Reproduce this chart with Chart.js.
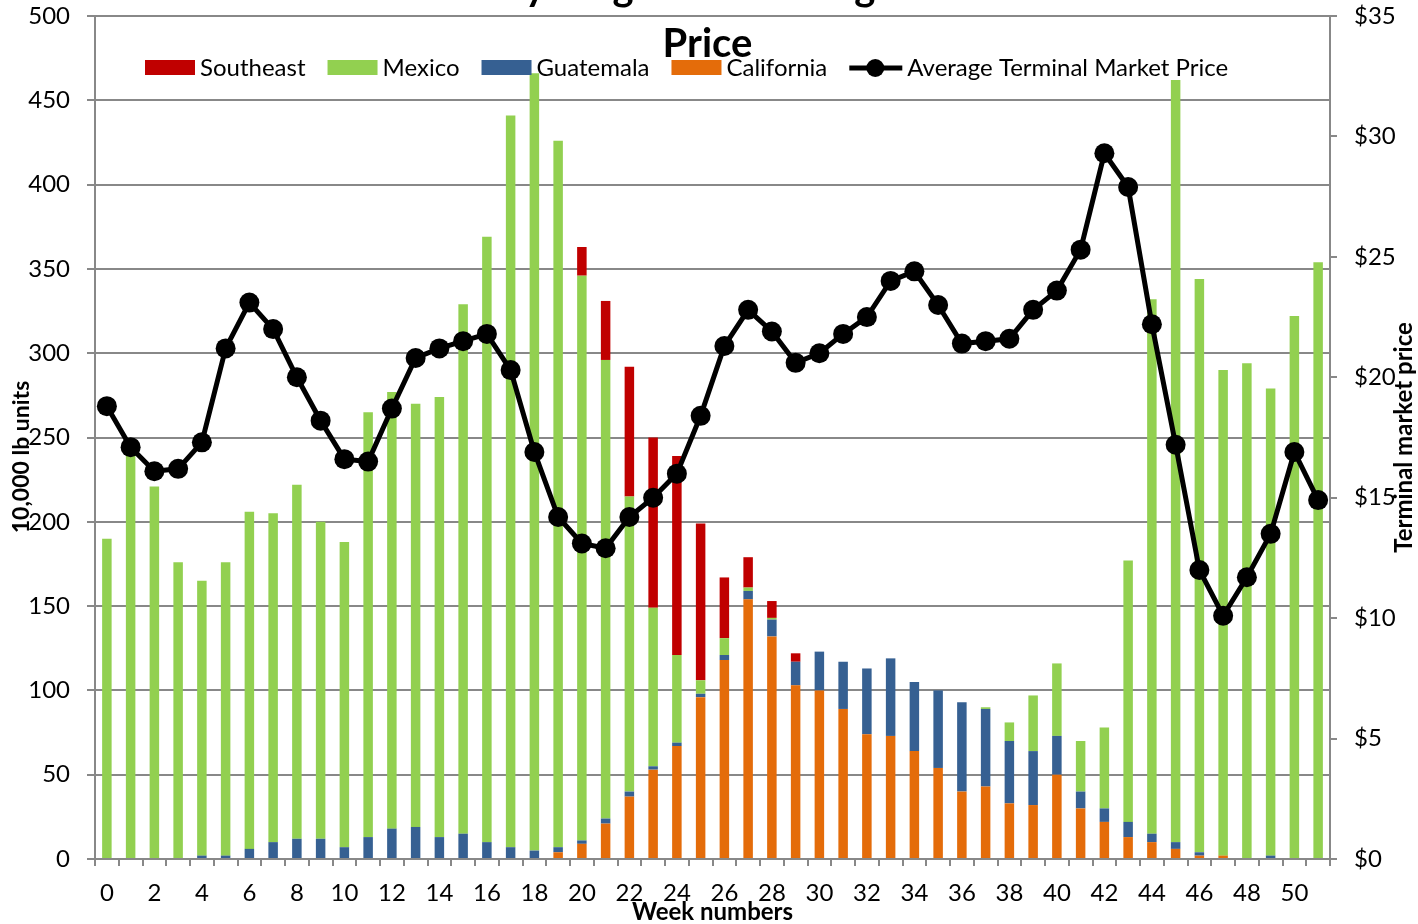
<!DOCTYPE html>
<html lang="en">
<head>
<meta charset="UTF-8">
<title>Weekly Origin and Average Terminal Market Price</title>
<script src="https://cdn.jsdelivr.net/npm/chart.js@4.4.0/dist/chart.umd.min.js"></script>
<style>
    body { margin: 0; background: #fff; }
    #wrap { width: 1418px; height: 924px; }
</style>
</head>
<body>
<div id="wrap"><canvas id="originChart" width="1418" height="924"></canvas></div>
<script>
// week numbers along the x axis
var weeks = [0, 1, 2, 3, 4, 5, 6, 7, 8, 9, 10, 11, 12, 13, 14, 15, 16, 17, 18, 19, 20, 21, 22, 23, 24, 25,
             26, 27, 28, 29, 30, 31, 32, 33, 34, 35, 36, 37, 38, 39, 40, 41, 42, 43, 44, 45, 46, 47, 48, 49, 50, 51];

// shipments, 10,000 lb units (stacked bottom to top)
var california = [0, 0, 0, 0, 0, 0, 0, 0, 0, 0, 0, 0, 0, 0, 0, 0, 0, 0, 0, 4, 9, 21, 37, 53, 67, 96,
                  118, 154, 132, 103, 100, 89, 74, 73, 64, 54, 40, 43, 33, 32, 50, 30, 22, 13, 10, 6, 2, 2, 0, 0, 0, 0];
var guatemala = [0, 0, 0, 0, 2, 2, 6, 10, 12, 12, 7, 13, 18, 19, 13, 15, 10, 7, 5, 3, 2, 3, 3, 2, 2, 2,
                 3, 5, 10, 14, 23, 28, 39, 46, 41, 46, 53, 46, 37, 32, 23, 10, 8, 9, 5, 4, 2, 0, 0, 2, 0, 0];
var mexico = [190, 243, 221, 176, 163, 174, 200, 195, 210, 188, 181, 252, 259, 251, 261, 314, 359, 434, 461, 419, 335, 272, 175, 94, 52, 8,
              10, 2, 1, 0, 0, 0, 0, 0, 0, 0, 0, 1, 11, 33, 43, 30, 48, 155, 317, 452, 340, 288, 294, 277, 322, 354];
var southeast = [0, 0, 0, 0, 0, 0, 0, 0, 0, 0, 0, 0, 0, 0, 0, 0, 0, 0, 0, 0, 17, 35, 77, 101, 118, 93,
                 36, 18, 10, 5, 0, 0, 0, 0, 0, 0, 0, 0, 0, 0, 0, 0, 0, 0, 0, 0, 0, 0, 0, 0, 0, 0];

// average terminal market price, $
var price = [18.8, 17.1, 16.1, 16.2, 17.3, 21.2, 23.1, 22.0, 20.0, 18.2, 16.6, 16.5, 18.7, 20.8, 21.2, 21.5, 21.8, 20.3, 16.9, 14.2, 13.1, 12.9, 14.2, 15.0, 16.0, 18.4,
             21.3, 22.8, 21.9, 20.6, 21.0, 21.8, 22.5, 24.0, 24.4, 23.0, 21.4, 21.5, 21.6, 22.8, 23.6, 25.3, 29.3, 27.9, 22.2, 17.2, 12.0, 10.1, 11.7, 13.5, 16.9, 14.9];

var titleLines = ['Cucumber Weekly Origin and Average Terminal Market', 'Price'];
var legendOrder = ['Southeast', 'Mexico', 'Guatemala', 'California', 'Average Terminal Market Price'];

var gridGray = '#888888';
var fontName = 'Lato';

// title, legend and axis titles sit over the plot area like in the original
var overlayText = {
    id: 'overlayText',
    afterDraw: function (chart) {
        var ctx = chart.ctx;
        var area = chart.chartArea;
        var cx = (area.left + area.right) / 2 - 5;
        ctx.save();
        ctx.fillStyle = '#000';

        ctx.font = 'bold 40px ' + fontName;
        ctx.textAlign = 'center';
        ctx.textBaseline = 'alphabetic';
        ctx.fillText(titleLines[0], cx, 0);
        ctx.fillText(titleLines[1], cx, 57);

        // legend
        ctx.font = '24px ' + fontName;
        ctx.textAlign = 'left';
        ctx.textBaseline = 'middle';
        var x = area.left + 50;
        var y = 68;
        legendOrder.forEach(function (name) {
            var ds = chart.data.datasets.find(function (d) { return d.label === name; });
            if (ds.type === 'line') {
                ctx.strokeStyle = '#000';
                ctx.lineWidth = 5;
                ctx.beginPath();
                ctx.moveTo(x, y);
                ctx.lineTo(x + 53, y);
                ctx.stroke();
                ctx.beginPath();
                ctx.arc(x + 26, y, 9, 0, Math.PI * 2);
                ctx.fill();
                x += 58;
            } else {
                ctx.fillStyle = ds.backgroundColor;
                ctx.fillRect(x, y - 8, 50, 15);
                ctx.fillStyle = '#000';
                x += 55;
            }
            ctx.fillText(name, x, y);
            x += ctx.measureText(name).width + 22;
        });

        // axis titles
        ctx.font = 'bold 23px ' + fontName;
        ctx.textAlign = 'center';
        ctx.translate(22, 457);
        ctx.rotate(-Math.PI / 2);
        ctx.fillText('10,000 lb units', 0, 0);
        ctx.setTransform(1, 0, 0, 1, 0, 0);
        ctx.font = 'bold 24px ' + fontName;
        ctx.translate(1404, (area.top + area.bottom) / 2);
        ctx.rotate(-Math.PI / 2);
        ctx.fillText('Terminal market price', 0, 0);
        ctx.restore();
    }
};

// fixed axis sizes so the plot area matches the original frame
function fitVertical(width) {
    return function (s) {
        s.width = width;
        s.paddingTop = 0;
        s.paddingBottom = 0;
    };
}

var ctxOrigin = document.getElementById('originChart').getContext('2d');
var originChart = new Chart(ctxOrigin, {
    type: 'bar',
    data: {
        labels: weeks,
        datasets: [
            { label: 'California', data: california, backgroundColor: '#E46C0A', order: 1 },
            { label: 'Guatemala', data: guatemala, backgroundColor: '#366092', order: 1 },
            { label: 'Mexico', data: mexico, backgroundColor: '#92D050', order: 1 },
            { label: 'Southeast', data: southeast, backgroundColor: '#C00000', order: 1 },
            {
                type: 'line',
                label: 'Average Terminal Market Price',
                data: price,
                yAxisID: 'y1',
                borderColor: '#000',
                backgroundColor: '#000',
                borderWidth: 5,
                pointRadius: 10,
                pointBackgroundColor: '#000',
                pointBorderWidth: 0,
                tension: 0,
                order: 0
            }
        ]
    },
    options: {
        responsive: false,
        animation: false,
        layout: { padding: { top: 16, left: 0, right: 0, bottom: 0 } },
        datasets: { bar: { barPercentage: 0.4, categoryPercentage: 1.0 } },
        plugins: {
            legend: { display: false },
            title: { display: false },
            tooltip: { enabled: false }
        },
        scales: {
            x: {
                stacked: true,
                grid: { offset: true, drawOnChartArea: false, tickLength: 7, color: gridGray, lineWidth: 2 },
                border: { color: gridGray, width: 2 },
                ticks: {
                    autoSkip: false,
                    maxRotation: 0,
                    padding: 13,
                    color: '#000',
                    font: { family: fontName, size: 24 },
                    callback: function (val, idx) { return idx % 2 === 0 ? this.getLabelForValue(val) : ''; }
                },
                title: {
                    display: true,
                    text: 'Week numbers',
                    color: '#000',
                    font: { family: fontName, size: 24, weight: 'bold', lineHeight: 1.0 },
                    padding: { top: 0, bottom: 0 }
                },
                afterFit: function (s) {
                    s.height = 65;
                    s.paddingLeft = 0;
                    s.paddingRight = 0;
                }
            },
            y: {
                stacked: true,
                min: 0,
                max: 500,
                ticks: { stepSize: 50, padding: 17, color: '#000', font: { family: fontName, size: 24 } },
                grid: { color: gridGray, lineWidth: 2, tickLength: 8 },
                border: { color: gridGray, width: 2 },
                afterFit: fitVertical(95)
            },
            y1: {
                position: 'right',
                min: 0,
                max: 35,
                ticks: {
                    stepSize: 5,
                    padding: 17,
                    color: '#000',
                    font: { family: fontName, size: 24 },
                    callback: function (v) { return '$' + v; }
                },
                grid: { drawOnChartArea: false, color: gridGray, lineWidth: 2, tickLength: 7 },
                border: { color: gridGray, width: 2 },
                afterFit: fitVertical(88)
            }
        }
    },
    plugins: [overlayText]
});
</script>
</body>
</html>
